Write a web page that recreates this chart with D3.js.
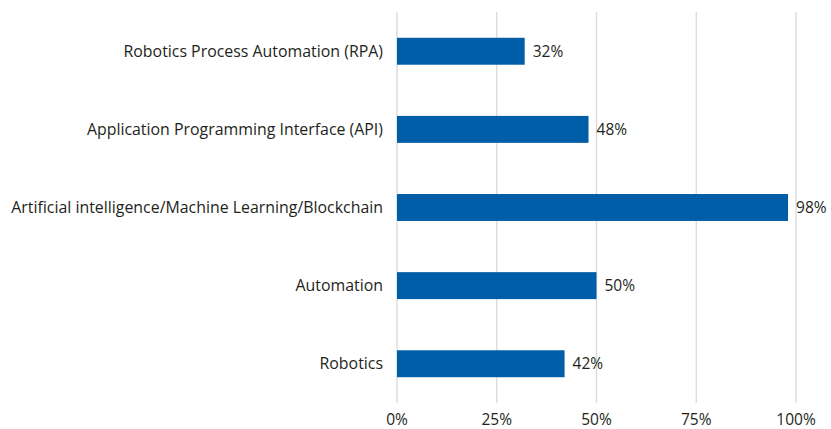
<!DOCTYPE html>
<html>
<head>
<meta charset="utf-8">
<script src="https://d3js.org/d3.v7.min.js"></script>
<style>
  body { margin: 0; background: #fff; }
  svg text { font-family: "Open Sans", Lato, sans-serif; fill: #231f20; }
</style>
</head>
<body>
<div id="chart"></div>
<script>
// chart data
var categories = [
  "Robotics Process Automation (RPA)",
  "Application Programming Interface (API)",
  "Artificial intelligence/Machine Learning/Blockchain",
  "Automation",
  "Robotics"
];
var values = [32, 48, 98, 50, 42];
var tickValues = [0, 25, 50, 75, 100];

var W = 831, H = 429;
var margin = {top: 12, right: 35, bottom: 26, left: 397};

var svg = d3.select("#chart").append("svg")
  .attr("width", W).attr("height", H);

var x = d3.scaleLinear().domain([0, 100])
  .range([margin.left, W - margin.right]);
var y = d3.scaleBand().domain(categories)
  .range([margin.top, H - margin.bottom])
  .paddingInner(0.655).paddingOuter(0.33);

// vertical gridlines
svg.append("g").selectAll("line")
  .data(tickValues).join("line")
  .attr("x1", d => x(d)).attr("x2", d => x(d))
  .attr("y1", margin.top).attr("y2", H - margin.bottom)
  .attr("stroke", "#d9d9d9").attr("stroke-width", 1.3);

// x tick labels
svg.append("g").selectAll("text")
  .data(tickValues).join("text")
  .attr("x", d => x(d)).attr("y", 425)
  .attr("text-anchor", "middle")
  .style("font-size", "15.5px")
  .text(d => d + "%");

var rows = categories.map((c, i) => ({cat: c, val: values[i]}));

// bars
svg.append("g").selectAll("rect")
  .data(rows).join("rect")
  .attr("x", x(0))
  .attr("y", d => y(d.cat))
  .attr("width", d => x(d.val) - x(0))
  .attr("height", y.bandwidth())
  .attr("fill", "#005ea8");

// value labels
svg.append("g").selectAll("text")
  .data(rows).join("text")
  .attr("x", d => x(d.val) + 8)
  .attr("y", d => y(d.cat) + y.bandwidth() / 2)
  .attr("dy", "0.36em")
  .style("font-size", "15.5px")
  .text(d => d.val + "%");

// category labels
svg.append("g").selectAll("text")
  .data(rows).join("text")
  .attr("x", 383)
  .attr("y", d => y(d.cat) + y.bandwidth() / 2)
  .attr("dy", "0.36em")
  .attr("text-anchor", "end")
  .style("font-size", "15.9px")
  .text(d => d.cat);
</script>
</body>
</html>
